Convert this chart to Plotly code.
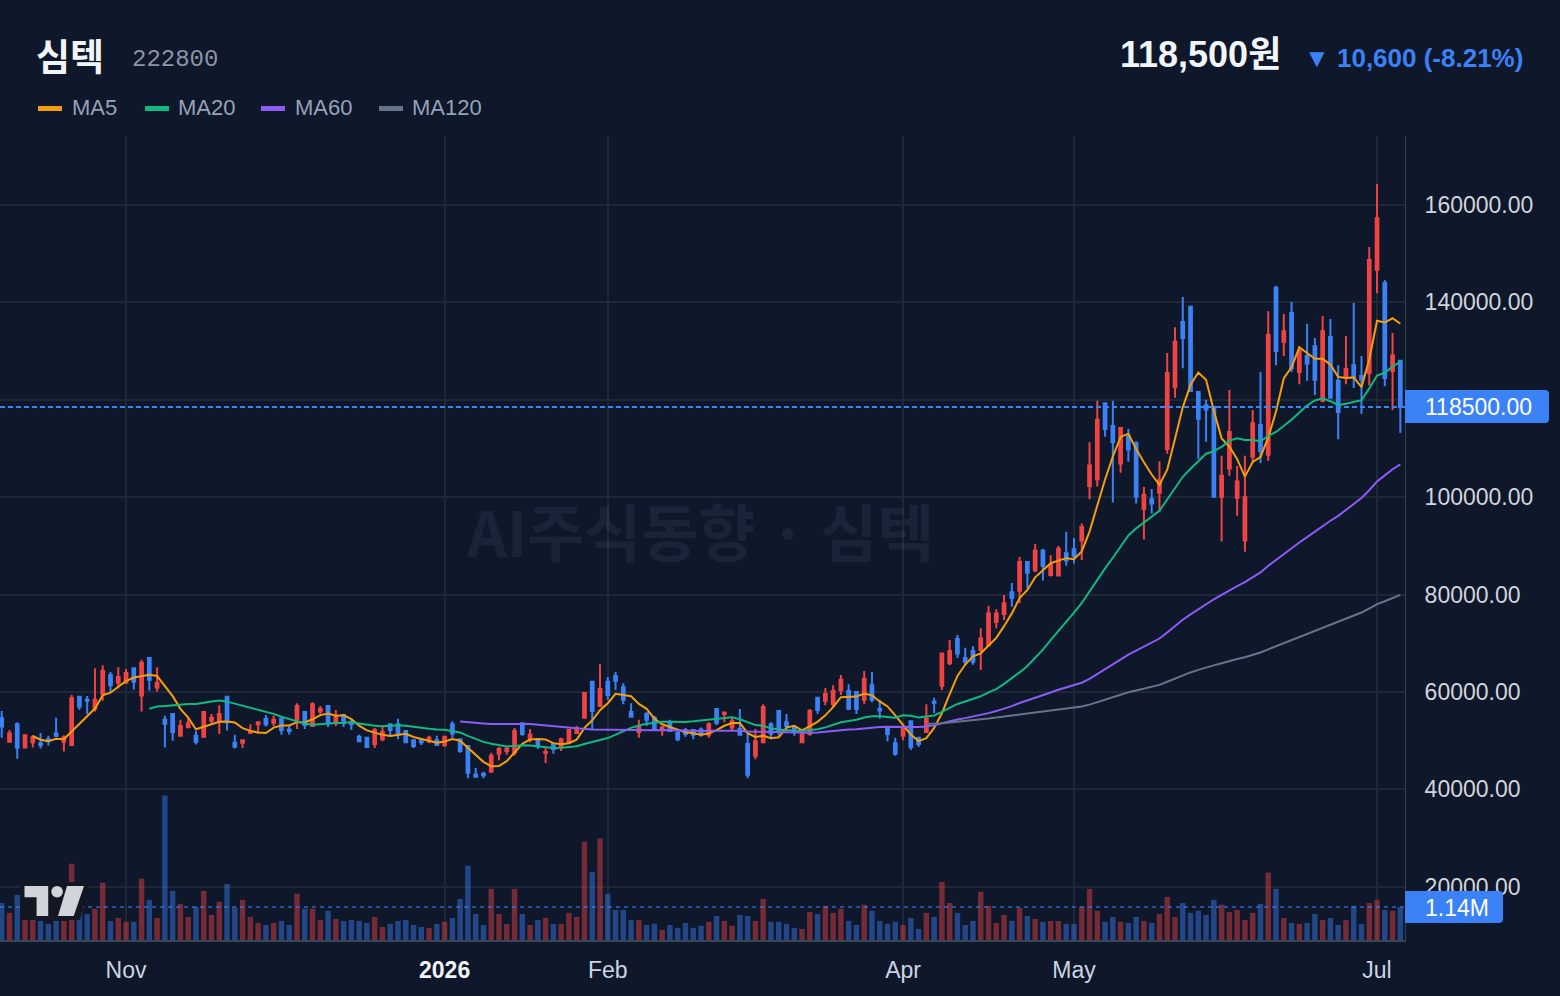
import pandas as pd
import plotly.graph_objects as go

# ---------------- data ----------------
HOLIDAYS = ["2025-12-25", "2025-12-31", "2026-01-01", "2026-02-16", "2026-02-17",
            "2026-02-18", "2026-03-02", "2026-05-01", "2026-05-05", "2026-05-25", "2026-06-03"]
DATES = [d.strftime("%Y-%m-%d") for d in pd.bdate_range("2025-10-10", "2026-07-06")
         if d.strftime("%Y-%m-%d") not in HOLIDAYS]

OPEN = [54600, 49800, 53400, 48600, 49700, 49500, 50300, 51500, 49800, 49100,
        59000, 58400, 56600, 59600, 63500, 61900, 61900, 64900, 59300, 67000,
        60900, 54300, 55500, 51000, 52800, 51000, 50800, 54100, 53900, 59000,
        49600, 49600, 51650, 53400, 54500, 53700, 54500, 52300, 54300, 55900,
        53000, 56000, 57100, 53600, 55300, 53800, 50800, 50600, 49300, 50300,
        53400, 53400, 52000, 50100, 50100, 49900, 50100, 49100, 53400, 50300,
        48900, 43000, 43200, 43600, 47300, 47900, 47500, 53600, 50300, 50300,
        47500, 49300, 48700, 49700, 51600, 54700, 62100, 57100, 62100, 63300,
        61000, 55900, 51800, 55500, 54700, 52300, 53800, 51600, 52200, 52200,
        52300, 51200, 56500, 55500, 52700, 52400, 49300, 46900, 49700, 53400,
        56100, 53800, 52600, 49700, 51400, 58800, 58200, 57500, 60400, 60200,
        60000, 58400, 61400, 56500, 52600, 49500, 51000, 54000, 50600, 51800,
        58000, 61300, 65900, 70900, 67000, 68400, 68600, 69600, 74400, 76000,
        80500, 80800, 86700, 85000, 89000, 84000, 83900, 88500, 89300, 91100,
        102300, 103700, 119300, 114600, 106900, 112600, 111100, 97600, 99600, 100900,
        109900, 122600, 136000, 139100, 121600, 118900, 118500, 100100, 105900, 99900,
        91100, 108300, 114800, 108700, 143000, 131900, 137800, 125700, 129000, 131000,
        119800, 132900, 123900, 124900, 127100, 124900, 125500, 146700, 144000, 125900,
        128000]
HIGH = [56100, 52200, 53800, 51200, 51100, 51600, 51000, 54700, 51100, 59400,
        59200, 59200, 64900, 65500, 64100, 65100, 64700, 64900, 66600, 67200,
        65100, 55100, 55700, 54300, 54900, 52000, 56100, 55500, 57300, 59000,
        51200, 50100, 53400, 53800, 55300, 55100, 54500, 53000, 57700, 55900,
        57900, 57100, 57300, 56300, 55500, 54300, 51200, 50600, 52600, 53000,
        53600, 54500, 52000, 50100, 50300, 51000, 51000, 50800, 54000, 50300,
        48900, 44400, 43600, 47500, 48700, 48900, 52600, 53600, 52400, 50300,
        48700, 49300, 50600, 52200, 53000, 60000, 62100, 65700, 63100, 64100,
        61800, 57700, 54300, 55900, 55100, 53000, 54300, 52000, 52600, 52400,
        52700, 53800, 56600, 55900, 54700, 56500, 51400, 52400, 57500, 53800,
        56100, 55500, 53200, 52400, 56500, 59000, 60800, 61400, 63500, 61600,
        60000, 64300, 64100, 58400, 52600, 50600, 53400, 54000, 50800, 57500,
        58800, 67900, 70700, 71700, 69100, 69400, 73100, 77700, 77000, 79900,
        82400, 87700, 86700, 90400, 89400, 88100, 90000, 92900, 91600, 94600,
        111300, 119800, 119300, 119800, 114400, 114000, 111500, 102100, 101700, 107400,
        129600, 134900, 141100, 139300, 121600, 120000, 118500, 108500, 122000, 106400,
        108500, 117900, 125700, 138200, 143400, 137600, 140100, 131000, 135600, 132700,
        137200, 136600, 127100, 133100, 139900, 129000, 151400, 164300, 144600, 133700,
        128000]
LOW = [50600, 49600, 46300, 48400, 48600, 48400, 49000, 50700, 47800, 49100,
       56300, 55500, 56000, 58200, 59900, 60700, 61700, 60500, 56000, 60300,
       60100, 48600, 50000, 50800, 52500, 49200, 50600, 53200, 51400, 52100,
       48400, 48500, 51400, 51500, 52900, 53000, 51200, 51200, 52400, 52400,
       52800, 55500, 52800, 53000, 52800, 52200, 49700, 48500, 48500, 49900,
       51000, 50300, 49500, 48500, 49100, 49500, 48900, 48700, 50600, 47500,
       42300, 42600, 42300, 43400, 46000, 47100, 46900, 51000, 49700, 48300,
       45400, 47300, 47900, 49300, 51400, 54500, 52400, 57100, 58400, 60400,
       57500, 54700, 50600, 53000, 52200, 51000, 51800, 49900, 50800, 50300,
       50800, 50600, 53200, 53800, 52200, 51000, 42300, 46200, 49700, 50300,
       51000, 52200, 51000, 49500, 51000, 55500, 57300, 56900, 59400, 56300,
       55500, 57500, 57900, 54500, 49900, 46900, 50100, 48100, 48700, 51600,
       55700, 60400, 65500, 67000, 65400, 65600, 64500, 69400, 73100, 74800,
       77500, 78200, 81300, 84600, 82900, 83700, 83900, 85900, 86400, 87100,
       99600, 102200, 112400, 98900, 105000, 107300, 98700, 91300, 96600, 97000,
       108900, 120400, 126500, 121600, 107900, 111400, 99900, 90900, 104400, 96200,
       88800, 107000, 107000, 107500, 127100, 129000, 125700, 123200, 123900, 121000,
       119500, 120200, 111900, 123200, 122400, 117100, 123000, 141900, 122800, 117900,
       113200]
CLOSE = [52900, 51500, 48600, 51100, 50700, 49100, 50000, 51000, 50700, 58700,
         57000, 58200, 58400, 64300, 61400, 63100, 63900, 62100, 66000, 62500,
         61900, 53500, 51800, 53000, 53600, 49800, 55900, 54700, 55500, 53800,
         48800, 50100, 51850, 53800, 53400, 54300, 52200, 52000, 57100, 53200,
         57500, 56500, 53600, 54900, 53700, 53400, 49900, 48700, 52200, 51800,
         52200, 51200, 49700, 48900, 49700, 50600, 49100, 50800, 51500, 47900,
         43400, 42600, 42900, 46900, 48300, 48300, 52000, 51400, 51200, 48900,
         47700, 48300, 50300, 52200, 52600, 59800, 56100, 60600, 59400, 62300,
         58400, 54900, 52800, 54300, 52200, 52700, 52000, 50300, 51400, 51200,
         51200, 53400, 53700, 55800, 54000, 51200, 43000, 49900, 56900, 51500,
         52200, 53000, 51800, 52200, 56100, 56300, 59600, 60200, 62500, 56500,
         56500, 62700, 58400, 56200, 51400, 47300, 52800, 48700, 49300, 54500,
         57800, 67900, 68400, 67900, 66200, 66200, 71000, 76100, 76100, 78200,
         79300, 86700, 84500, 89000, 85900, 86100, 89400, 87000, 87900, 93900,
         106500, 115900, 114000, 111300, 114200, 109800, 100100, 100500, 98700, 103500,
         125500, 131900, 132700, 121800, 116100, 118000, 100100, 104400, 113400, 103200,
         100000, 115200, 109500, 133300, 130000, 134100, 126500, 130000, 127400, 124100,
         134100, 120400, 117500, 126300, 124700, 124100, 148700, 157300, 124500, 129100,
         118500]
VOLUME_M = [1.28, 0.94, 1.56, 0.76, 0.72, 0.66, 0.56, 0.66, 0.66, 2.64,
            1.35, 0.90, 1.08, 1.98, 0.66, 0.76, 0.63, 0.63, 2.12, 1.39,
            0.76, 5.00, 1.70, 1.25, 0.80, 1.15, 1.70, 0.87, 1.32, 1.94,
            1.12, 1.39, 0.80, 0.59, 0.52, 0.59, 0.66, 0.52, 1.60, 1.09,
            1.08, 0.69, 1.01, 0.73, 0.66, 0.69, 0.66, 0.59, 0.80, 0.45,
            0.56, 0.66, 0.69, 0.52, 0.45, 0.42, 0.56, 0.63, 0.76, 1.42,
            2.57, 0.90, 0.52, 1.77, 0.90, 0.56, 1.77, 0.90, 0.52, 0.69,
            0.76, 0.56, 0.56, 0.94, 0.80, 3.40, 2.36, 3.51, 1.60, 1.04,
            1.04, 0.69, 0.69, 0.52, 0.56, 0.35, 0.52, 0.42, 0.59, 0.42,
            0.49, 0.63, 0.83, 0.66, 0.49, 0.87, 0.83, 0.66, 1.42, 0.63,
            0.63, 0.56, 0.42, 0.38, 0.97, 0.90, 1.18, 0.94, 1.08, 0.66,
            0.52, 1.22, 1.01, 0.66, 0.56, 0.63, 0.52, 0.76, 0.38, 0.94,
            0.80, 2.01, 1.28, 0.94, 0.52, 0.66, 1.67, 1.18, 0.59, 0.87,
            0.66, 1.11, 0.83, 0.73, 0.63, 0.66, 0.66, 0.56, 0.56, 1.15,
            1.77, 1.01, 0.63, 0.80, 0.63, 0.59, 0.80, 0.66, 0.59, 0.90,
            1.49, 0.80, 1.28, 0.94, 1.01, 0.87, 1.39, 1.22, 0.97, 1.04,
            0.69, 0.94, 1.25, 2.33, 1.77, 0.76, 0.59, 0.56, 0.59, 0.90,
            0.69, 0.76, 0.52, 0.69, 1.18, 0.56, 1.28, 1.39, 1.04, 1.01,
            1.14]

TICK_DATES = ["2025-11-03", "2026-01-02", "2026-02-02", "2026-04-01", "2026-05-04", "2026-07-01"]
TICK_TEXT = ["Nov", "<b><span style='color:#f1f5f9'>2026</span></b>", "Feb", "Apr", "May", "Jul"]
PRICE_TICKS = [20000, 40000, 60000, 80000, 100000, 120000, 140000, 160000]
HIDDEN_TICK = 120000  # covered by the last-price label
MA_PERIODS = [5, 20, 60, 120]
MA_COLORS = ["#f59e0b", "#10b981", "#8b5cf6", "#64748b"]
LAST_PRICE = 118500
LAST_VOLUME_M = 1.14

# ---------------- style ----------------
BG = "#0f172a"
GRID = "#1f2837"
SANS = "Liberation Sans, Arial, Noto Sans CJK KR, sans-serif"
KR = "Noto Sans CJK KR, Liberation Sans, sans-serif"
UP = "#ef4444"
DOWN = "#3b82f6"

W, H = 1560, 996
PL, PR, PT, PB = 0, 1405, 136, 940


def fx(x):
    return (x - PL) / (PR - PL)


def fy(y):
    return (PB - y) / (PB - PT)


fig = go.Figure()

vol_colors = ["rgba(239,68,68,0.45)" if c >= o else "rgba(59,130,246,0.45)"
              for o, c in zip(OPEN, CLOSE)]
fig.add_trace(go.Bar(x=DATES, y=[v * 1e6 for v in VOLUME_M], marker_color=vol_colors,
                     marker_line_width=0, yaxis="y2", hoverinfo="skip"))

fig.add_trace(go.Candlestick(
    x=DATES, open=OPEN, high=HIGH, low=LOW, close=CLOSE, yaxis="y",
    increasing=dict(line=dict(color=UP, width=2), fillcolor=UP),
    decreasing=dict(line=dict(color=DOWN, width=2), fillcolor=DOWN),
    whiskerwidth=0))

close_s = pd.Series(CLOSE, dtype=float)
for n, col in zip(MA_PERIODS, MA_COLORS):
    ma = close_s.rolling(n).mean()
    fig.add_trace(go.Scatter(x=DATES, y=ma, mode="lines", line=dict(color=col, width=2),
                             yaxis="y", hoverinfo="skip"))

shapes = []
annotations = []

# current price line and volume line
shapes.append(dict(type="line", xref="paper", x0=0, x1=1, yref="y", y0=LAST_PRICE, y1=LAST_PRICE,
                   line=dict(color="#3b82f6", width=2, dash="5px,3px")))
shapes.append(dict(type="line", xref="paper", x0=0, x1=1, yref="y2", y0=LAST_VOLUME_M * 1e6,
                   y1=LAST_VOLUME_M * 1e6, line=dict(color="rgba(59,130,246,0.55)", width=2, dash="4px,4px")))


def rr_path(x0, y0, x1, y1, r):
    pts = [("M", x0, y0), ("L", x1 - r, y0), ("Q", x1, y0, x1, y0 + r), ("L", x1, y1 - r),
           ("Q", x1, y1, x1 - r, y1), ("L", x0, y1)]
    s = ""
    for p in pts:
        if p[0] == "Q":
            s += "Q%.5f,%.5f %.5f,%.5f " % (fx(p[1]), fy(p[2]), fx(p[3]), fy(p[4]))
        else:
            s += "%s%.5f,%.5f " % (p[0], fx(p[1]), fy(p[2]))
    return s + "Z"


def poly(points):
    return "M" + " L".join("%.5f,%.5f" % (fx(x), fy(y)) for x, y in points) + " Z"


# axis labels boxes
shapes.append(dict(type="path", xref="paper", yref="paper", path=rr_path(1405, 390, 1549, 423, 4),
                   fillcolor="#3b82f6", line=dict(width=0), layer="above"))
shapes.append(dict(type="path", xref="paper", yref="paper", path=rr_path(1405, 891, 1503, 923, 4),
                   fillcolor="#3b82f6", line=dict(width=0), layer="above"))
annotations.append(dict(xref="paper", yref="paper", x=fx(1423), y=fy(407), xanchor="left", yanchor="middle",
                        text="%.2f" % LAST_PRICE, showarrow=False,
                        font=dict(family=SANS, size=23, color="#ffffff")))
annotations.append(dict(xref="paper", yref="paper", x=fx(1423), y=fy(907.5), xanchor="left", yanchor="middle",
                        text="%.2fM" % LAST_VOLUME_M, showarrow=False,
                        font=dict(family=SANS, size=23, color="#ffffff")))

# header
annotations.append(dict(xref="paper", yref="paper", x=fx(34), y=fy(55), xanchor="left", yanchor="middle",
                        text="<b>심텍</b>", showarrow=False, font=dict(family=KR, size=37, color="#f1f5f9")))
annotations.append(dict(xref="paper", yref="paper", x=fx(130), y=fy(59), xanchor="left", yanchor="middle",
                        text="222800", showarrow=False,
                        font=dict(family="Liberation Mono, DejaVu Sans Mono, monospace", size=24, color="#8a94a6")))
annotations.append(dict(xref="paper", yref="paper", x=fx(1283), y=fy(55), xanchor="right", yanchor="middle",
                        text="<b>118,500원</b>", showarrow=False, font=dict(family=SANS, size=36, color="#f1f5f9")))
annotations.append(dict(xref="paper", yref="paper", x=fx(1525), y=fy(58), xanchor="right", yanchor="middle",
                        text="<b>▼ 10,600 (-8.21%)</b>", showarrow=False,
                        font=dict(family=SANS, size=26, color="#3b82f6")))

# legend
legend_items = [("MA5", 36, 70), ("MA20", 143, 176), ("MA60", 259, 293), ("MA120", 377, 410)]
for (name, sx, tx), col in zip(legend_items, MA_COLORS):
    shapes.append(dict(type="line", xref="paper", yref="paper", x0=fx(sx + 2), x1=fx(sx + 26),
                       y0=fy(108.5), y1=fy(108.5), line=dict(color=col, width=5)))
    annotations.append(dict(xref="paper", yref="paper", x=fx(tx), y=fy(107), xanchor="left",
                            yanchor="middle", text=name, showarrow=False,
                            font=dict(family=SANS, size=22, color="#94a3b8")))

# watermark
annotations.append(dict(xref="paper", yref="paper", x=fx(700), y=fy(530), xanchor="center", yanchor="middle",
                        text="<b>AI주식동향 · 심텍</b>", showarrow=False,
                        font=dict(family=KR, size=62, color="rgba(148,163,184,0.09)")))

# TradingView logo
shapes.append(dict(type="path", xref="paper", yref="paper",
                   path=poly([(20, 882), (89, 882), (80, 920), (20, 920)]),
                   fillcolor="#131722", line=dict(width=0), layer="above"))
shapes.append(dict(type="path", xref="paper", yref="paper",
                   path=poly([(24.5, 886), (48.2, 886), (48.2, 916), (36.6, 916), (36.6, 897.3), (24.5, 897.3)]),
                   fillcolor="#d1d4dc", line=dict(width=0), layer="above"))
shapes.append(dict(type="circle", xref="paper", yref="paper", x0=fx(51.3), x1=fx(62.9), y0=fy(897.5),
                   y1=fy(885.9), fillcolor="#d1d4dc", line=dict(width=0), layer="above"))
shapes.append(dict(type="path", xref="paper", yref="paper",
                   path=poly([(67, 886), (84, 886), (73.7, 916), (58, 916)]),
                   fillcolor="#d1d4dc", line=dict(width=0), layer="above"))

fig.update_layout(
    width=W, height=H, paper_bgcolor=BG, plot_bgcolor=BG,
    margin=dict(l=PL, r=W - PR, t=PT, b=H - PB),
    showlegend=False, boxgap=0.5, bargap=0.3,
    shapes=shapes, annotations=annotations,
    xaxis=dict(type="category", range=[-0.22, 180.6], tickmode="array", tickvals=TICK_DATES,
               ticktext=TICK_TEXT, showgrid=True, gridcolor=GRID, gridwidth=2,
               showline=True, linecolor="#3a4556", linewidth=2, ticks="",
               tickfont=dict(family=SANS, size=23, color="#cbd5e1"), ticklabelstandoff=8,
               rangeslider=dict(visible=False), zeroline=False, fixedrange=True),
    yaxis=dict(side="right", range=[9075, 174168], tickmode="array", tickvals=PRICE_TICKS,
               ticktext=["" if v == HIDDEN_TICK else "%.2f" % v for v in PRICE_TICKS],
               showgrid=True, gridcolor=GRID, gridwidth=2, showline=True, linecolor="#334155",
               linewidth=1, ticks="", tickfont=dict(family=SANS, size=23, color="#d1d5db"),
               ticklabelstandoff=14, zeroline=False, fixedrange=True),
    yaxis2=dict(overlaying="y", range=[0, 27.8e6], visible=False, showgrid=False, fixedrange=True),
)

fig.write_html("out.html")
